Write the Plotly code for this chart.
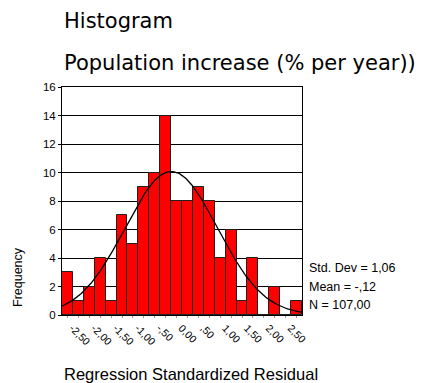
import numpy as np
import plotly.graph_objects as go

bin_centers = [-2.50, -2.25, -2.00, -1.75, -1.50, -1.25, -1.00, -0.75, -0.50, -0.25, 0.00,
               0.25, 0.50, 0.75, 1.00, 1.25, 1.50, 1.75, 2.00, 2.25, 2.50, 2.75]
counts = [3, 1, 2, 4, 1, 7, 5, 9, 10, 14, 8, 8, 9, 8, 4, 6, 1, 4, 0, 2, 0, 1]
tick_vals = [-2.5, -2.0, -1.5, -1.0, -0.5, 0.0, 0.5, 1.0, 1.5, 2.0, 2.5]
tick_text = ["-2,50", "-2,00", "-1,50", "-1,00", "-,50", "0,00", ",50", "1,00", "1,50", "2,00", "2,50"]
mean, sd, n, bw = -0.12, 1.06, 107, 0.25
stats = ["Std. Dev = 1,06", "Mean = -,12", "N = 107,00"]

FONT = "Liberation Sans, Arial, sans-serif"
TFONT = "DejaVu Sans, sans-serif"

xs = np.linspace(-2.625, 2.875, 200)
ys = n * bw / (sd * np.sqrt(2 * np.pi)) * np.exp(-0.5 * ((xs - mean) / sd) ** 2)

fig = go.Figure()
fig.add_trace(go.Bar(x=bin_centers, y=counts, width=bw,
                     marker=dict(color="#ff0000", line=dict(color="#202020", width=1)),
                     showlegend=False))
fig.add_trace(go.Scatter(x=xs, y=ys, mode="lines", line=dict(color="black", width=1.3),
                         showlegend=False))

L, R, T, B = 62, 120, 87, 68
fig.update_layout(
    width=422, height=383,
    margin=dict(l=L, r=R, t=T, b=B),
    paper_bgcolor="white", plot_bgcolor="white",
    font=dict(family=FONT, color="black"),
    bargap=0,
    xaxis=dict(range=[-2.625, 2.875], tickvals=tick_vals, ticktext=tick_text,
               tickangle=45, tickfont=dict(size=10.5), showgrid=False, zeroline=False,
               showline=True, linecolor="black", linewidth=1, mirror=True,
               ticks="outside", ticklen=2, tickcolor="#999", ticklabelshift=5,
               minor=dict(dtick=0.25, tick0=-2.5, ticks="outside", ticklen=2, tickcolor="#999",
                          showgrid=False)),
    yaxis=dict(range=[0, 16], dtick=2, tickfont=dict(size=11.5), showgrid=True,
               gridcolor="black", gridwidth=1, zeroline=False,
               showline=True, linecolor="black", linewidth=1, mirror=True,
               ticks="outside", ticklen=3, tickcolor="black"),
)

ann = [
    dict(text="Histogram", x=L, y=21, size=21, fam=TFONT),
    dict(text="Population increase (% per year))", x=L, y=63, size=21, fam=TFONT),
    dict(text="Regression Standardized Residual", x=L, y=374, size=16.5, fam=FONT),
]
for a in ann:
    fig.add_annotation(text=a["text"], xref="paper", yref="paper",
                       x=(a["x"] - L) / (422 - L - R), y=1 - (a["y"] - T) / (383 - T - B),
                       xanchor="left", yanchor="middle", showarrow=False,
                       font=dict(size=a["size"], family=a["fam"]))
for i, s in enumerate(stats):
    yy = [268, 287, 305][i]
    fig.add_annotation(text=s, xref="paper", yref="paper",
                       x=(307 - L) / (422 - L - R), y=1 - (yy - T) / (383 - T - B),
                       xanchor="left", yanchor="middle", showarrow=False,
                       font=dict(size=12.5, family=FONT))
fig.add_annotation(text="Frequency", xref="paper", yref="paper",
                   x=(18 - L) / (422 - L - R), y=1 - (277 - T) / (383 - T - B),
                   xanchor="center", yanchor="middle", textangle=-90, showarrow=False,
                   font=dict(size=12.5, family=FONT))

fig.write_html("out.html")
